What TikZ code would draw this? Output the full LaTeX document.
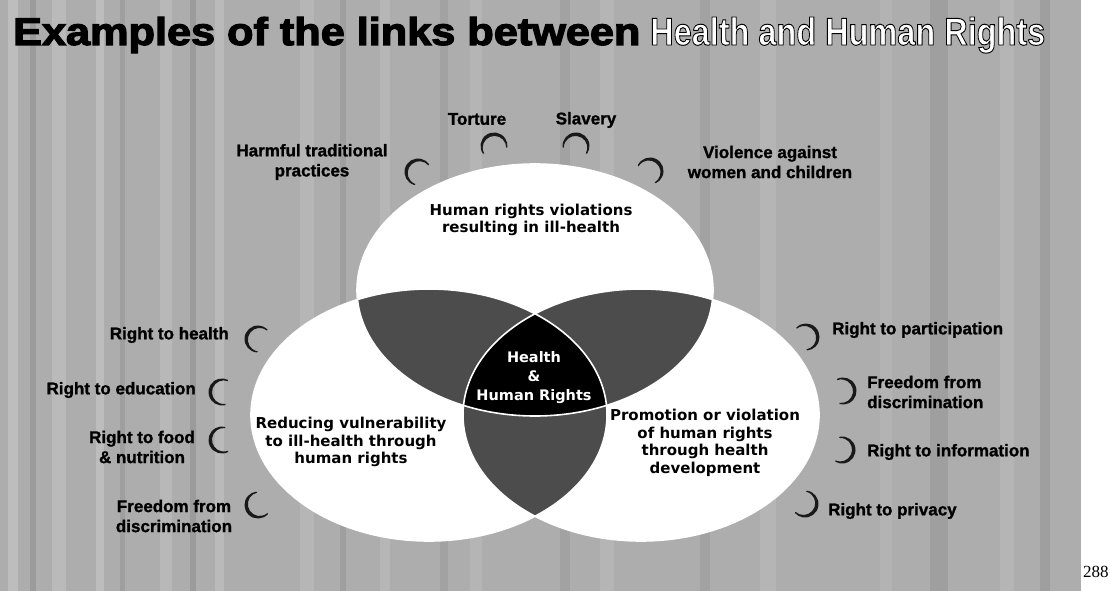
\documentclass[tikz,border=0pt]{standalone}
\usepackage{fontspec}
\setmainfont{Liberation Sans}
\newfontfamily\circfont{DejaVu Sans}
\newfontfamily\titlefont[FakeBold=3]{Liberation Sans Bold}
\newfontfamily\titlefontw[FakeBold=2.5]{Liberation Sans Bold}
\newfontfamily\labfont[FakeBold=1.2]{Liberation Sans Bold}
\newfontfamily\serfont{Liberation Serif}
\definecolor{bgc}{gray}{0.68}
\definecolor{lensc}{gray}{0.30}
\definecolor{hookc}{gray}{0.10}
\newcommand\olt[1]{{\titlefontw\special{pdf:bcolor [1 1 1] [0 0 0]}#1\special{pdf:ecolor}}}
\tikzset{
  lab/.style={font=\labfont\fontsize{17}{20}\selectfont, inner sep=0pt, text=black},
  ctext/.style={font=\circfont\bfseries\fontsize{15}{17.5}\selectfont, align=center, inner sep=0pt},
  circ/.style={x radius=178pt, y radius=126pt},
  swoosh/.pic={\fill[hookc] (200:13.5) arc[start angle=200, end angle=-20, radius=13.5]
     -- ([shift={(0,-1.8)}]-15:11.8) arc[start angle=-15, end angle=195, radius=11.8] -- cycle;}
}
\begin{document}
\begin{tikzpicture}[x=1pt,y=1pt]
\useasboundingbox (0,0) rectangle (1110,-591);
% background
\fill[bgc] (0,0) rectangle (1081,-591);
\foreach \x/\w/\c/\o in {8/10/white/.2, 30/6/black/.1, 52/14/white/.16, 96/8/white/.2, 120/5/black/.08, 160/12/white/.14, 190/6/black/.1, 215/9/white/.16, 300/14/white/.12, 340/6/black/.08, 380/10/white/.12, 440/8/black/.06, 470/12/white/.1, 560/10/black/.06, 600/14/white/.1, 700/10/black/.06, 760/16/white/.1, 880/12/white/.08, 930/18/black/.08, 1000/14/white/.1, 1040/10/black/.08}
  \fill[\c,opacity=\o] (\x,0) rectangle ++(\w,-591);
% circles
\coordinate (ct) at (535,-290);
\coordinate (cl) at (429,-415);
\coordinate (cr) at (641,-415);
\fill[white] (ct) ellipse[circ];
\fill[white] (cl) ellipse[circ];
\fill[white] (cr) ellipse[circ];
\begin{scope}
  \clip (ct) ellipse[circ];
  \fill[lensc] (cl) ellipse[circ];
  \fill[lensc] (cr) ellipse[circ];
\end{scope}
\begin{scope}
  \clip (cl) ellipse[circ];
  \fill[lensc] (cr) ellipse[circ];
\end{scope}
\begin{scope}
  \clip (ct) ellipse[circ];
  \clip (cl) ellipse[circ];
  \fill[black] (cr) ellipse[circ];
\end{scope}
\draw[white, line width=1.6pt] (ct) ellipse[circ];
\draw[white, line width=1.6pt] (cl) ellipse[circ];
\draw[white, line width=1.6pt] (cr) ellipse[circ];
% title
\node[anchor=base west, inner sep=0pt] (title1) at (13,-45)
  {\resizebox{627pt}{28pt}{\titlefont Examples of the links between}};
\node[anchor=base west, inner sep=0pt] (title2) at (650,-45)
  {\resizebox{395pt}{28pt}{\olt{Health and Human Rights}}};
% circle texts
\node[ctext] (ttext) at (531,-220) {Human rights violations\\resulting in ill-health};
\node[ctext] (ltext) at (351,-442) {Reducing vulnerability\\to ill-health through\\human rights};
\node[ctext] (rtext) at (705,-443) {Promotion or violation\\of human rights\\through health\\development};
\node[ctext, text=white, font=\circfont\bfseries\fontsize{14.5}{19}\selectfont] (htext) at (534,-378) {Health\\\&\\Human Rights};
% top labels
\node[lab] (torture) at (477,-119) {Torture};
\node[lab] (slavery) at (586,-120) {Slavery};
\node[lab, align=center] (harmful) at (312,-162) {Harmful traditional\\practices};
\node[lab, align=center] (violence) at (770,-162) {Violence against\\women and children};
% left labels
\node[lab, anchor=east] (health) at (229,-335) {Right to health};
\node[lab, anchor=east] (educ) at (196,-390) {Right to education};
\node[lab, align=center] (food) at (142,-447) {Right to food\\\& nutrition};
\node[lab, align=center] (freel) at (174,-516) {Freedom from\\discrimination};
% right labels
\node[lab, anchor=west] (partic) at (832,-330) {Right to participation};
\node[lab, anchor=west, align=left] (freer) at (867,-392) {Freedom from\\discrimination};
\node[lab, anchor=west] (inform) at (867,-452) {Right to information};
\node[lab, anchor=west] (privacy) at (828,-511) {Right to privacy};
% swooshes
\pic[rotate=15] at (494,-146) {swoosh};
\pic[rotate=-15] at (576,-146) {swoosh};
\pic[rotate=55] at (418,-172) {swoosh};
\pic[rotate=-45] at (650,-171) {swoosh};
\pic[rotate=66] at (258,-339) {swoosh};
\pic[rotate=84] at (222,-392) {swoosh};
\pic[rotate=97] at (222,-440) {swoosh};
\pic[rotate=117] at (258,-505) {swoosh};
\pic[rotate=-65] at (806,-337) {swoosh};
\pic[rotate=-84] at (843,-391) {swoosh};
\pic[rotate=-100] at (842,-450) {swoosh};
\pic[rotate=-118] at (805,-504) {swoosh};
% page number
\node[font=\serfont\fontsize{17}{20}\selectfont, anchor=base west, inner sep=0pt] (pnum) at (1083,-577) {288};
\end{tikzpicture}
\end{document}
